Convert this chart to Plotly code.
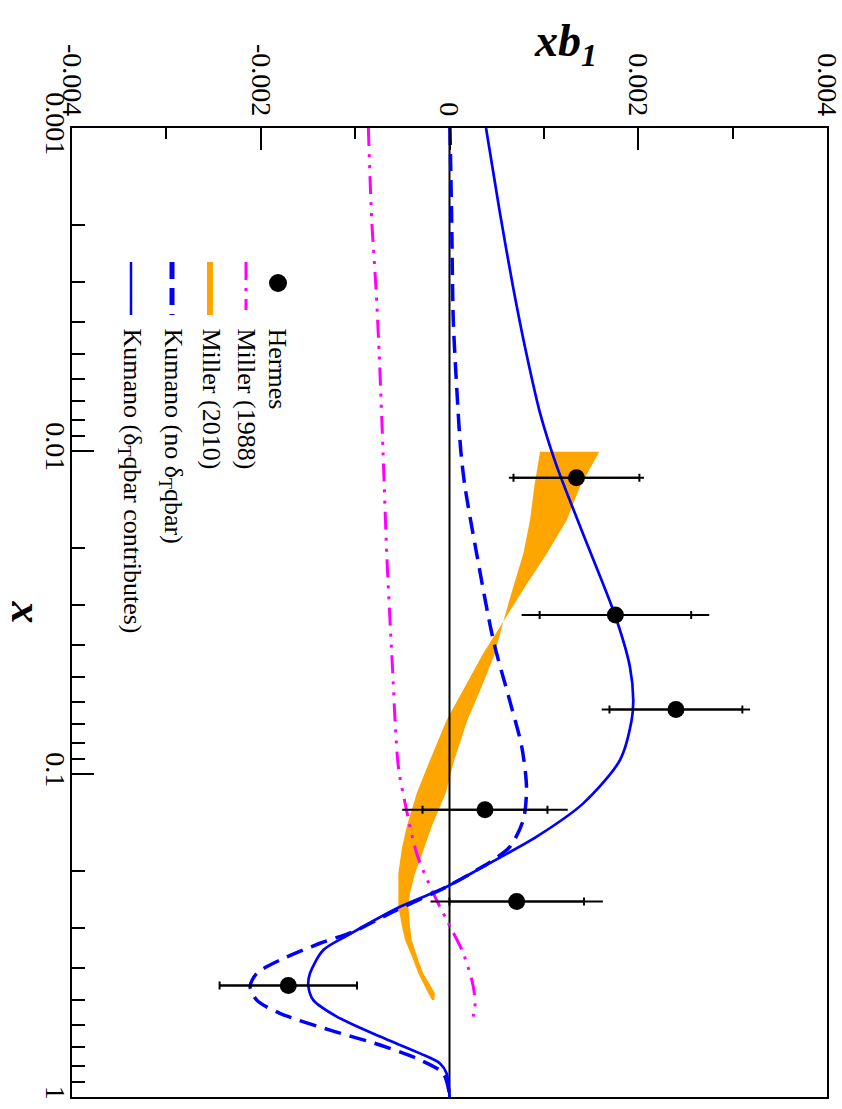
import numpy as np
import plotly.graph_objects as go

SCALE = 1e-3  # values below are in units of 1e-3

# Hermes data
hermes_x = [0.0121, 0.0322, 0.0631, 0.129, 0.248, 0.452]
hermes_v = [1.345, 1.758, 2.399, 0.376, 0.712, -1.708]
hermes_stat = [0.667, 0.803, 0.704, 0.662, 0.713, 0.728]
hermes_tot = [0.716, 0.994, 0.786, 0.877, 0.913, 0.728]

# Kumano (delta_T qbar contributes)
kumano_full_x = [0.001, 0.0018, 0.0031, 0.005, 0.00762, 0.0109, 0.0176, 0.0322, 0.0466, 0.0590,
                 0.0681, 0.0906, 0.1233, 0.1563, 0.1936, 0.2234, 0.2576, 0.3148, 0.3508, 0.4140,
                 0.4519, 0.5012, 0.5636, 0.6501, 0.7328, 0.7870, 0.8453, 0.9727, 1.0]
kumano_full_v = [0.387, 0.53, 0.673, 0.815, 0.959, 1.125, 1.40, 1.753, 1.912, 1.947,
                 1.930, 1.806, 1.417, 0.924, 0.358, -0.030, -0.524, -1.07, -1.337, -1.478,
                 -1.496, -1.443, -1.195, -0.736, -0.3125, -0.1006, -0.030, -0.002, 0.0]

# Kumano (no delta_T qbar)
kumano_noqbar_x = [0.001, 0.00193, 0.00393, 0.00632, 0.00993, 0.0129, 0.0208, 0.0385, 0.0597,
                   0.0822, 0.1104, 0.1387, 0.1679, 0.1845, 0.1959, 0.2234, 0.2667, 0.3076, 0.3342,
                   0.3767, 0.4140, 0.4550, 0.5012, 0.5508, 0.6209, 0.6902, 0.7674, 0.8453, 0.9727, 1.0]
kumano_noqbar_v = [0.005, 0.023, 0.040, 0.076, 0.119, 0.164, 0.288, 0.464, 0.641,
                   0.765, 0.816, 0.782, 0.641, 0.464, 0.32, -0.03, -0.595, -1.019, -1.372,
                   -1.796, -2.042, -2.113, -2.042, -1.796, -1.266, -0.736, -0.3125, -0.066, -0.002, 0.0]

# Miller (1988)
miller1988_x = [0.001, 0.00193, 0.0031, 0.00499, 0.00993, 0.0208, 0.0423, 0.0948, 0.1230, 0.1762,
                0.2339, 0.2831, 0.3589, 0.4550, 0.5248, 0.5860]
miller1988_v = [-0.860, -0.824, -0.780, -0.745, -0.705, -0.665, -0.612, -0.542, -0.471, -0.347,
                -0.172, -0.030, 0.146, 0.252, 0.270, 0.235]

# Miller (2010) band
miller2010_x = [0.01005, 0.0129, 0.01637, 0.0208, 0.0263, 0.0337, 0.0423, 0.0537, 0.0681, 0.0906,
                0.1148, 0.1455, 0.1700, 0.2028, 0.2339, 0.2576, 0.2972, 0.3266, 0.3767, 0.4140,
                0.4775, 0.5012]
miller2010_lo = [0.959, 0.898, 0.853, 0.782, 0.676, 0.57, 0.358, 0.160, -0.03, -0.207,
                 -0.347, -0.453, -0.505, -0.542, -0.545, -0.542, -0.503, -0.471, -0.383, -0.331,
                 -0.225, -0.185]
miller2010_hi = [1.587, 1.382, 1.242, 1.030, 0.800, 0.57, 0.482, 0.341, 0.190, 0.050,
                 -0.040, -0.189, -0.27, -0.365, -0.418, -0.436, -0.418, -0.400, -0.331, -0.278,
                 -0.154, -0.160]

xb1_tickvals = [-0.004, -0.002, 0, 0.002, 0.004]
xb1_ticktext = ["-0.004", "-0.002", "0", "0.002", "0.004"]
x_tickvals = [0.001, 0.01, 0.1, 1]
x_ticktext = ["0.001", "0.01", "0.1", "1"]

legend_labels = ["Hermes", "Miller (1988)", "Miller (2010)",
                 "Kumano (no δ<sub>T</sub>qbar)", "Kumano (δ<sub>T</sub>qbar contributes)"]

S = lambda a: (np.array(a) * SCALE)

FONT = "Liberation Serif, Times New Roman, serif"
ORANGE = "#FFA500"
MAGENTA = "#FF00FF"
BLUE = "#0000FF"

fig = go.Figure()

# orange band
fig.add_trace(go.Scatter(x=S(miller2010_lo), y=miller2010_x, mode="lines",
                         line=dict(width=0, color=ORANGE), hoverinfo="skip"))
fig.add_trace(go.Scatter(x=S(miller2010_hi), y=miller2010_x, mode="lines", fill="tonexty",
                         fillcolor=ORANGE, line=dict(width=0, color=ORANGE)))
# zero reference line
fig.add_trace(go.Scatter(x=[0, 0], y=[x_tickvals[0], x_tickvals[-1]], mode="lines",
                         line=dict(color="black", width=2)))
# Miller 1988
fig.add_trace(go.Scatter(x=S(miller1988_v), y=miller1988_x, mode="lines", line_shape="spline",
                         line=dict(color=MAGENTA, width=3, dash="18px,8px,3px,8px,3px,8px", smoothing=0.8)))
# Kumano no qbar
fig.add_trace(go.Scatter(x=S(kumano_noqbar_v), y=kumano_noqbar_x, mode="lines", line_shape="spline",
                         line=dict(color=BLUE, width=3.5, dash="17px,9px", smoothing=0.8)))
# Kumano full
fig.add_trace(go.Scatter(x=S(kumano_full_v), y=kumano_full_x, mode="lines", line_shape="spline",
                         line=dict(color=BLUE, width=2.7, smoothing=0.8)))
# Hermes total errors
fig.add_trace(go.Scatter(x=S(hermes_v), y=hermes_x, mode="markers",
                         marker=dict(size=1, color="black", opacity=0),
                         error_x=dict(type="data", array=S(hermes_tot), color="black",
                                      thickness=2, width=0)))
# Hermes stat errors + markers
fig.add_trace(go.Scatter(x=S(hermes_v), y=hermes_x, mode="markers",
                         marker=dict(size=17, color="black", symbol="circle"),
                         error_x=dict(type="data", array=S(hermes_stat), color="black",
                                      thickness=2, width=4)))

L, R, T, B = 72, 827, 128, 1097
W, H = 842, 1109


def px(xp):
    return (xp - L) / (R - L)


def py(yp):
    return (B - yp) / (B - T)


fig.update_layout(
    width=W, height=H,
    margin=dict(l=L, r=W - R, t=T, b=H - B, autoexpand=False),
    plot_bgcolor="white", paper_bgcolor="white",
    showlegend=False,
    font=dict(family=FONT, color="black"),
    xaxis=dict(
        range=[-0.004, 0.004000001], side="top", automargin=False,
        tickmode="array", tickvals=xb1_tickvals, ticktext=xb1_ticktext, tickangle=90,
        ticks="inside", ticklen=22, tickwidth=2, tickcolor="black",
        ticklabeloverflow="allow",
        minor=dict(ticks="inside", ticklen=11, tickwidth=2, tickcolor="black",
                   tickmode="array", tickvals=[-0.003, -0.001, 0.001, 0.003], showgrid=False),
        showline=True, mirror=True, linecolor="black", linewidth=2,
        showgrid=False, zeroline=False,
        tickfont=dict(family=FONT, size=28, color="black"),
    ),
    yaxis=dict(
        type="log", range=[0, -3], automargin=False,
        tickmode="array", tickvals=x_tickvals, ticktext=x_ticktext, tickangle=90,
        ticks="inside", ticklen=22, tickwidth=2, tickcolor="black",
        ticklabeloverflow="allow", ticklabelstandoff=-10,
        minor=dict(ticks="inside", ticklen=13, tickwidth=2, tickcolor="black",
                   tickmode="array",
                   tickvals=[m * 10.0 ** e for e in (-3, -2, -1) for m in range(2, 10)],
                   showgrid=False),
        showline=True, mirror=True, linecolor="black", linewidth=2,
        showgrid=False, zeroline=False,
        tickfont=dict(family=FONT, size=28, color="black"),
    ),
)

ann = []
# axis titles
ann.append(dict(text="<b><i>x</i></b>", x=px(0), y=py(612), xref="paper", yref="paper",
                showarrow=False, textangle=90, font=dict(family=FONT, size=44, color="black"),
                xanchor="left", yanchor="middle"))
ann.append(dict(text="<b><i>xb</i></b><sub><b><i>1</i></b></sub>", x=px(565), y=py(44),
                xref="paper", yref="paper", showarrow=False,
                font=dict(family=FONT, size=46, color="black"), xanchor="center", yanchor="middle"))

# legend
leg_x = [277, 246, 211, 172, 131]
shapes = []
shapes.append(dict(type="circle", xref="paper", yref="paper",
                   x0=px(278 - 9), x1=px(278 + 9), y0=py(283 - 9), y1=py(283 + 9),
                   fillcolor="black", line=dict(color="black", width=0)))
shapes.append(dict(type="line", xref="paper", yref="paper", x0=px(246), x1=px(246),
                   y0=py(262), y1=py(310), line=dict(color=MAGENTA, width=3, dash="18px,8px,3px,8px")))
shapes.append(dict(type="line", xref="paper", yref="paper", x0=px(210), x1=px(210),
                   y0=py(262), y1=py(315), line=dict(color=ORANGE, width=6)))
shapes.append(dict(type="line", xref="paper", yref="paper", x0=px(172), x1=px(172),
                   y0=py(262), y1=py(315), line=dict(color=BLUE, width=5, dash="17px,9px")))
shapes.append(dict(type="line", xref="paper", yref="paper", x0=px(131), x1=px(131),
                   y0=py(262), y1=py(315), line=dict(color=BLUE, width=2.5)))
for lx, lab in zip(leg_x, legend_labels):
    ann.append(dict(text=lab, x=px(lx), y=py(326), xref="paper", yref="paper", showarrow=False,
                    textangle=90, font=dict(family=FONT, size=26, color="black"),
                    xanchor="center", yanchor="top"))

fig.update_layout(annotations=ann, shapes=shapes)
fig.write_html("out.html", config={"displayModeBar": False},
               post_script="document.body.style.margin='0px';document.body.style.overflow='hidden';")
